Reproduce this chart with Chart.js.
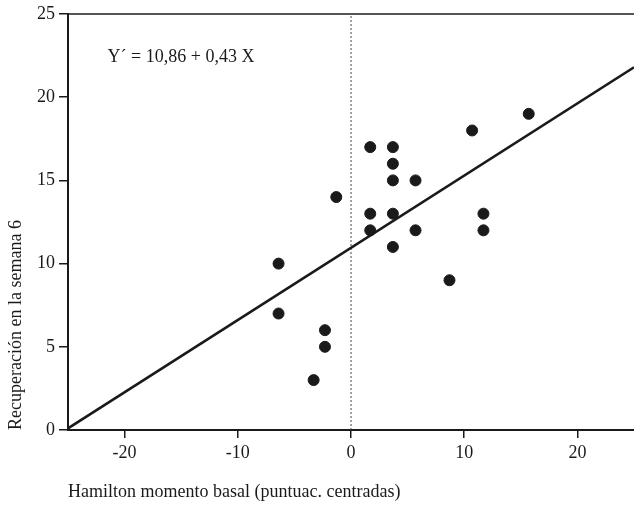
<!DOCTYPE html>
<html>
<head>
<meta charset="utf-8">
<script src="https://cdn.jsdelivr.net/npm/chart.js@4"></script>
<style>
  html, body { margin: 0; padding: 0; background: #fff; }
  #wrap { width: 634px; height: 508px; }
  canvas { display: block; }
</style>
</head>
<body>
<div id="wrap"><canvas id="chart_elem" width="634" height="508"></canvas></div>
<script>
// puntuaciones centradas de Hamilton (X) y recuperacion en la semana 6 (Y)
const hamX = [-6.4, -6.4, -1.3, -2.3, -2.3, -3.3, 1.7, 1.7, 1.7, 3.7, 3.7, 3.7, 3.7, 3.7, 5.7, 5.7, 8.7, 10.7, 11.7, 11.7, 15.7];
const recY = [10, 7, 14, 6, 5, 3, 17, 13, 12, 17, 16, 15, 13, 11, 15, 12, 9, 18, 13, 12, 19];

// recta de regresion, extremos
const fitX = [-25, 25];
const fitY = [0.1, 21.8];

// linea punteada en X = 0
const zeroX = [0, 0];
const zeroY = [0, 25];

const xTicks = [-20, -10, 0, 10, 20];
const yTicks = [0, 5, 10, 15, 20, 25];

const equation = 'Y\u00B4 = 10,86 + 0,43 X';
const xTitle = 'Hamilton momento basal (puntuac. centradas)';
const yTitle = 'Recuperación en la semana 6';

const serif = '"Liberation Serif", "Times New Roman", serif';
const ink = '#1a1a1a';

const toPoints = (xs, ys) => xs.map((x, i) => ({ x: x, y: ys[i] }));

// texto de la ecuacion dentro del area del grafico
const equationLabel = {
  id: 'equationLabel',
  afterDatasetsDraw(chart) {
    const ctx = chart.ctx;
    const px = chart.scales.x.getPixelForValue(-21.5);
    const py = chart.scales.y.getPixelForValue(22.4);
    ctx.save();
    ctx.font = '18px ' + serif;
    ctx.fillStyle = ink;
    ctx.textAlign = 'left';
    ctx.textBaseline = 'middle';
    ctx.fillText(equation, px, py);
    ctx.restore();
  }
};

const canvas = document.getElementById('chart_elem');
const ctx = canvas.getContext('2d');

const data = {
  datasets: [{
    label: 'Recuperación',
    type: 'scatter',
    data: toPoints(hamX, recY),
    backgroundColor: ink,
    borderColor: ink,
    pointRadius: 5.5,
    pointHoverRadius: 5.5,
    order: 1
  }, {
    label: 'Recta',
    type: 'line',
    data: toPoints(fitX, fitY),
    borderColor: ink,
    borderWidth: 2.5,
    pointRadius: 0,
    fill: false,
    order: 2
  }, {
    label: 'X = 0',
    type: 'line',
    data: toPoints(zeroX, zeroY),
    borderColor: '#444',
    borderWidth: 1,
    borderDash: [2, 2],
    pointRadius: 0,
    fill: false,
    order: 3
  }]
};

const config = {
  type: 'scatter',
  data,
  options: {
    responsive: false,
    animation: false,
    layout: { padding: 0, autoPadding: false },
    plugins: {
      legend: { display: false },
      tooltip: { enabled: false }
    },
    scales: {
      x: {
        type: 'linear',
        position: 'bottom',
        min: -25,
        max: 25,
        afterBuildTicks: (scale) => { scale.ticks = xTicks.map(v => ({ value: v })); },
        afterFit: (scale) => {
          scale.height = 78;
          scale.paddingLeft = 0;
          scale.paddingRight = 0;
        },
        ticks: {
          color: ink,
          padding: 4,
          font: { family: serif, size: 18 }
        },
        grid: {
          drawOnChartArea: false,
          drawTicks: true,
          tickLength: 8,
          color: ink,
          lineWidth: 1.5
        },
        border: { display: true, color: ink, width: 2 },
        title: {
          display: true,
          text: xTitle,
          align: 'start',
          color: ink,
          font: { family: serif, size: 18 },
          padding: { top: 0, bottom: 5 }
        }
      },
      xTop: {
        type: 'linear',
        position: 'top',
        min: -25,
        max: 25,
        afterFit: (scale) => {
          scale.height = 14;
          scale.paddingLeft = 0;
          scale.paddingRight = 0;
        },
        ticks: { display: false },
        grid: { drawOnChartArea: false, drawTicks: false },
        border: { display: true, color: '#555', width: 2 }
      },
      y: {
        type: 'linear',
        position: 'left',
        min: 0,
        max: 25,
        afterBuildTicks: (scale) => { scale.ticks = yTicks.map(v => ({ value: v })); },
        afterFit: (scale) => {
          scale.width = 68;
          scale.paddingTop = 0;
          scale.paddingBottom = 0;
        },
        ticks: {
          color: ink,
          padding: 4,
          font: { family: serif, size: 18 }
        },
        grid: {
          drawOnChartArea: false,
          drawTicks: true,
          tickLength: 9,
          color: ink,
          lineWidth: 1.5
        },
        border: { display: true, color: ink, width: 2 },
        title: {
          display: true,
          text: yTitle,
          align: 'start',
          color: ink,
          font: { family: serif, size: 18 },
          padding: { top: 5, bottom: 0 }
        }
      }
    }
  },
  plugins: [equationLabel]
};

const chart = new Chart(ctx, config);
</script>
</body>
</html>
